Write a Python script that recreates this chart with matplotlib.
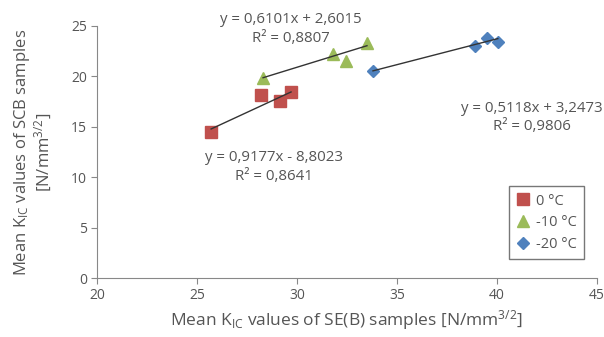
import matplotlib.pyplot as plt
import numpy as np

plt.rcParams["font.family"] = ["Open Sans", "DejaVu Sans"]
plt.rcParams["mathtext.fontset"] = "custom"
plt.rcParams["mathtext.rm"] = "Open Sans"
plt.rcParams["mathtext.it"] = "Open Sans"

# data
x_0 = [25.7, 28.2, 29.15, 29.7]
y_0 = [14.45, 18.15, 17.6, 18.4]
x_10 = [28.3, 31.8, 32.45, 33.5]
y_10 = [19.8, 22.2, 21.5, 23.3]
x_20 = [33.8, 38.9, 39.5, 40.05]
y_20 = [20.5, 23.0, 23.8, 23.45]

# trend line coefficients (slope, intercept) and R^2 from the chart labels
fit_0 = (0.9177, -8.8023, 0.8641)
fit_10 = (0.6101, 2.6015, 0.8807)
fit_20 = (0.5118, 3.2473, 0.9806)

labels = ["0 °C", "-10 °C", "-20 °C"]
colors = ["#c0504d", "#9bbb59", "#4f81bd"]
markers = ["s", "^", "D"]
sizes = [8, 8, 6]

fig = plt.figure(figsize=(6.04, 3.37), dpi=100)
ax = fig.add_axes([0.161, 0.175, 0.827, 0.748])

text_c = "#555555"
series = [(x_0, y_0, fit_0), (x_10, y_10, fit_10), (x_20, y_20, fit_20)]
for (xs, ys, fit), lab, c, m, s in zip(series, labels, colors, markers, sizes):
    xx = np.array([min(xs), max(xs)])
    ax.plot(xx, fit[0] * xx + fit[1], color="#333333", lw=1, zorder=3)
    ax.plot(xs, ys, linestyle="none", marker=m, color=c, markersize=s,
            label=lab, zorder=2)

def eq(fit):
    sign = "+" if fit[1] >= 0 else "-"
    a = f"{fit[0]:.4f}".replace(".", ",")
    b = f"{abs(fit[1]):.4f}".replace(".", ",")
    r = f"{fit[2]:.4f}".replace(".", ",")
    return f"y = {a}x {sign} {b}\nR² = {r}"

ax.text(29.7, 24.7, eq(fit_10), ha="center", va="center", fontsize=10.8,
        color=text_c, linespacing=1.3)
ax.text(28.85, 11.0, eq(fit_0), ha="center", va="center", fontsize=10.8,
        color=text_c, linespacing=1.3)
ax.text(41.75, 15.9, eq(fit_20), ha="center", va="center", fontsize=10.8,
        color=text_c, linespacing=1.3)

ax.set_xlim(20, 45)
ax.set_ylim(0, 25)
ax.set_xticks(range(20, 46, 5))
ax.set_yticks(range(0, 26, 5))
for sp in ["top", "right"]:
    ax.spines[sp].set_visible(False)
for sp in ["left", "bottom"]:
    ax.spines[sp].set_color("#888888")
ax.tick_params(colors="#888888", labelcolor=text_c, labelsize=10, length=4)

ax.set_xlabel(r"Mean K$_{\mathregular{IC}}$ values of SE(B) samples [N/mm$^{3/2}$]",
              fontsize=12.5, color=text_c, labelpad=3)
ax.set_ylabel("Mean K$_{\\mathregular{IC}}$ values of SCB samples\n[N/mm$^{3/2}$]",
              fontsize=12, color=text_c, labelpad=12, linespacing=1.05)

leg = ax.legend(loc="center right", bbox_to_anchor=(0.99, 0.22), fontsize=10.5,
                frameon=True, fancybox=False, edgecolor="#555555",
                handlelength=1.0, handletextpad=0.4, borderpad=0.5,
                labelspacing=0.45, labelcolor=text_c)
leg.get_frame().set_linewidth(1.0)

fig.savefig("out.png", dpi=100)
